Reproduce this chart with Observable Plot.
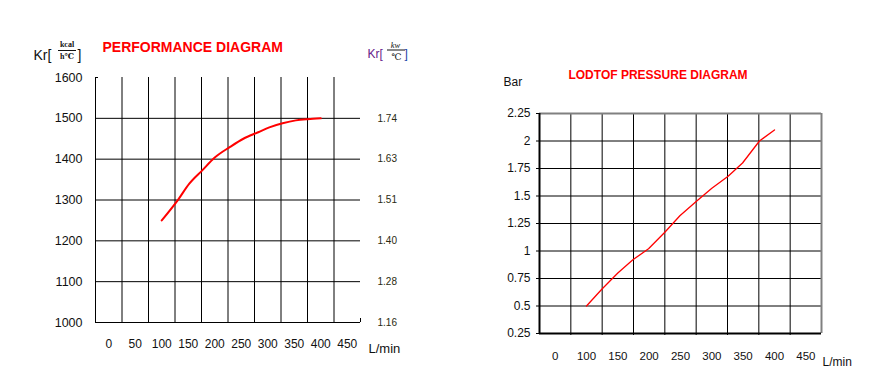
<!DOCTYPE html>
<html>
<head>
<meta charset="utf-8">
<script src="https://cdn.jsdelivr.net/npm/d3@7"></script>
<script src="https://cdn.jsdelivr.net/npm/@observablehq/plot@0.6"></script>
<style>
  html, body { margin: 0; padding: 0; background: #fff; }
  #wrap { position: relative; width: 887px; height: 389px; overflow: hidden; font-family: "Liberation Sans", Arial, sans-serif; }
  #left, #right { position: absolute; top: 0; }
  #left { left: 0; }
  #right { left: 440px; }
  svg { overflow: visible; }
</style>
</head>
<body>
<div id="wrap"><div id="left"></div><div id="right"></div></div>
<script>
// ---------- data: performance diagram ----------
const perfFlowLabels = [0, 50, 100, 150, 200, 250, 300, 350, 400, 450];
const perfFlow = [100, 130, 152, 176, 200, 229, 254, 282, 303, 328, 353, 375, 400];
const perfKr = [1250, 1299, 1340, 1372, 1404, 1430, 1450, 1466, 1478, 1488, 1495, 1498, 1500];
const perfKcalTicks = [1000, 1100, 1200, 1300, 1400, 1500, 1600];
const perfKwTicks = [1000, 1100, 1200, 1300, 1400, 1500];
const perfKwLabels = ["1.16", "1.28", "1.40", "1.51", "1.63", "1.74"];

// ---------- data: pressure diagram ----------
const presFlowTicks = [50, 100, 150, 200, 250, 300, 350, 400, 450];
const presFlowLabels = ["0", "100", "150", "200", "250", "300", "350", "400", "450"];
const presFlow = [100, 124, 150, 174, 199, 225, 249, 275, 300, 326, 349, 376, 400];
const presBar = [0.5, 0.65, 0.8, 0.92, 1.02, 1.17, 1.32, 1.45, 1.57, 1.68, 1.8, 2.0, 2.1];
const presBarTicks = [0.25, 0.5, 0.75, 1, 1.25, 1.5, 1.75, 2, 2.25];
const presBarLabels = ["0.25", "0.5", "0.75", "1", "1.25", "1.5", "1.75", "2", "2.25"];

const FONT = "Liberation Sans, Arial, sans-serif";
const SERIF = "Liberation Serif, DejaVu Serif, serif";

// gridlines sit half a step between the tick labels
const perfGrid = perfFlowLabels.slice(0, -1).map(d => d + 25);
const perfEdgeLo = perfFlowLabels[0] - 25, perfEdgeHi = perfFlowLabels[perfFlowLabels.length - 1] + 25;
const presGrid = presFlowTicks.slice(0, -1).map(d => d + 25);
const presEdgeLo = presFlowTicks[0] - 25, presEdgeHi = presFlowTicks[presFlowTicks.length - 1] + 25;

// fraction bar helper (pixel offsets relative to frame top-left)
function fractionBar(x1, x2, y, stroke) {
  return (index, scales, values, dims) => {
    const g = d3.create("svg:line")
      .attr("x1", dims.marginLeft + x1).attr("x2", dims.marginLeft + x2)
      .attr("y1", dims.marginTop + y).attr("y2", dims.marginTop + y)
      .attr("stroke", stroke).attr("stroke-width", 1);
    return g.node();
  };
}

const perfData = perfFlow.map((f, i) => ({flow: f, kr: perfKr[i]}));

const left = Plot.plot({
  width: 440, height: 389,
  marginLeft: 95, marginRight: 80, marginTop: 77, marginBottom: 67,
  style: {fontFamily: FONT, background: "white"},
  x: {domain: [perfEdgeLo, perfEdgeHi], label: null},
  y: {domain: [1000, 1600], label: null},
  marks: [
    Plot.ruleX(perfGrid, {stroke: "black", strokeWidth: 1}),
    Plot.ruleY(perfKcalTicks.filter(d => d < 1600), {stroke: "black", strokeWidth: 1}),
    Plot.ruleX([perfEdgeLo], {stroke: "black", strokeWidth: 1}),
    Plot.axisY({ticks: [1600], tickSize: -3, tickFormat: () => "", stroke: "black", label: null}),
    Plot.axisX({ticks: [perfEdgeHi], tickSize: -4, tickFormat: () => "", stroke: "black", anchor: "bottom", label: null}),
    Plot.axisY({ticks: perfKcalTicks, tickSize: 0, tickPadding: 13, fontSize: 12.5, label: null, fill: "#111", tickFormat: d => String(d)}),
    Plot.axisY({anchor: "right", ticks: perfKwTicks, tickSize: 0, tickPadding: 17, fontSize: 10, label: null, fill: "#2a2a10",
      tickFormat: d => perfKwLabels[perfKwTicks.indexOf(d)]}),
    Plot.axisX({ticks: perfFlowLabels, tickSize: 0, tickPadding: 17, fontSize: 12, label: null, fill: "#111", tickFormat: d => String(d)}),
    Plot.line(perfData, {x: "flow", y: "kr", stroke: "#ff0000", strokeWidth: 2, curve: "monotone-x"}),
    // texts
    Plot.text(["PERFORMANCE DIAGRAM"], {frameAnchor: "top-left", lineAnchor: "middle", textAnchor: "start", dx: 7, dy: -30,
      fontSize: 14, fontWeight: "bold", fill: "#ff0000"}),
    Plot.text(["Kr["], {frameAnchor: "top-left", lineAnchor: "middle", textAnchor: "start", dx: -62, dy: -22, fontSize: 14, fill: "#111"}),
    Plot.text(["kcal"], {frameAnchor: "top-left", lineAnchor: "middle", textAnchor: "middle", dx: -28.5, dy: -33, fontSize: 8, fontWeight: "bold", fontFamily: SERIF, fill: "#111"}),
    fractionBar(-37, -19, -26.5, "#111"),
    Plot.text(["h℃"], {frameAnchor: "top-left", lineAnchor: "middle", textAnchor: "middle", dx: -28.5, dy: -21, fontSize: 8, fontWeight: "bold", fontFamily: SERIF, fill: "#111"}),
    Plot.text(["]"], {frameAnchor: "top-left", lineAnchor: "middle", textAnchor: "start", dx: -18, dy: -22, fontSize: 14, fill: "#111"}),
    Plot.text(["Kr["], {frameAnchor: "top-left", lineAnchor: "middle", textAnchor: "start", dx: 272, dy: -23.5, fontSize: 12, fill: "#66228a"}),
    Plot.text(["kw"], {frameAnchor: "top-left", lineAnchor: "middle", textAnchor: "middle", dx: 300, dy: -32, fontSize: 8.5, fontFamily: SERIF, fontStyle: "italic", fill: "#111"}),
    fractionBar(292, 310, -27, "#111"),
    Plot.text(["℃"], {frameAnchor: "top-left", lineAnchor: "middle", textAnchor: "middle", dx: 301, dy: -20.5, fontSize: 9, fontFamily: SERIF, fill: "#111"}),
    Plot.text(["]"], {frameAnchor: "top-left", lineAnchor: "middle", textAnchor: "start", dx: 309, dy: -23.5, fontSize: 12, fill: "#2244aa"}),
    Plot.text(["L/min"], {frameAnchor: "top-left", lineAnchor: "middle", textAnchor: "start", dx: 273, dy: 271, fontSize: 13, fill: "#111"})
  ]
});
document.getElementById("left").appendChild(left);

const presData = presFlow.map((f, i) => ({flow: f, bar: presBar[i]}));

const right = Plot.plot({
  width: 447, height: 389,
  marginLeft: 99, marginRight: 66, marginTop: 113, marginBottom: 56,
  style: {fontFamily: FONT, background: "white"},
  x: {domain: [presEdgeLo, presEdgeHi], label: null},
  y: {domain: [presBarTicks[0], presBarTicks[presBarTicks.length - 1]], label: null},
  marks: [
    Plot.ruleX(presGrid, {stroke: "black", strokeWidth: 1}),
    Plot.ruleY(presBarTicks.slice(1, -1), {stroke: "black", strokeWidth: 1}),
    Plot.ruleY([presBarTicks[presBarTicks.length - 1]], {stroke: "#808080", strokeWidth: 2}),
    Plot.ruleX([presEdgeHi], {stroke: "#808080", strokeWidth: 2}),
    Plot.ruleX([presEdgeLo], {stroke: "black", strokeWidth: 2}),
    Plot.ruleY([presBarTicks[0]], {stroke: "black", strokeWidth: 2}),
    Plot.axisY({ticks: presBarTicks, tickSize: 3, tickPadding: 6, fontSize: 12, label: null, fill: "#111", stroke: "black",
      tickFormat: d => presBarLabels[presBarTicks.indexOf(d)]}),
    Plot.axisX({ticks: presGrid, tickSize: 2, tickFormat: () => "", stroke: "black", label: null}),
    Plot.axisX({ticks: presFlowTicks, tickSize: 0, tickPadding: 18, fontSize: 11.5, label: null, fill: "#111",
      tickFormat: d => presFlowLabels[presFlowTicks.indexOf(d)]}),
    Plot.line(presData, {x: "flow", y: "bar", stroke: "#ff0000", strokeWidth: 1.3}),
    Plot.text(["LODTOF PRESSURE DIAGRAM"], {frameAnchor: "top-left", lineAnchor: "middle", textAnchor: "middle", dx: 118.5, dy: -38,
      fontSize: 12, fontWeight: "bold", fill: "#ff0000"}),
    Plot.text(["Bar"], {frameAnchor: "top-left", lineAnchor: "middle", textAnchor: "start", dx: -36, dy: -31.5, fontSize: 12, fill: "#111"}),
    Plot.text(["L/min"], {frameAnchor: "top-left", lineAnchor: "middle", textAnchor: "start", dx: 283, dy: 249, fontSize: 12, fill: "#111"})
  ]
});
document.getElementById("right").appendChild(right);
</script>
</body>
</html>
